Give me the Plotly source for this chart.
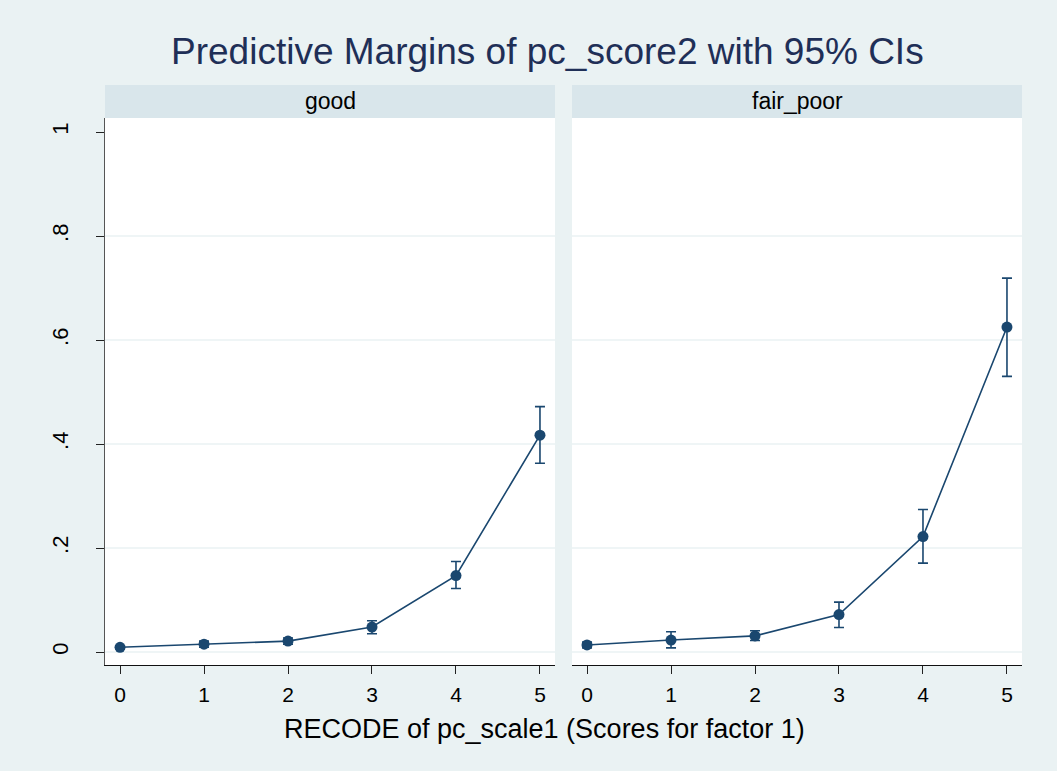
import plotly.graph_objects as go

W, H = 1057, 771

x_vals = [0, 1, 2, 3, 4, 5]
panels = ["good", "fair_poor"]

good_margin = [0.009, 0.015, 0.021, 0.048, 0.147, 0.417]
good_lo = [0.006, 0.009, 0.015, 0.035, 0.122, 0.363]
good_hi = [0.012, 0.021, 0.027, 0.060, 0.174, 0.472]

fair_margin = [0.0135, 0.023, 0.031, 0.072, 0.222, 0.625]
fair_lo = [0.008, 0.008, 0.022, 0.047, 0.171, 0.530]
fair_hi = [0.019, 0.039, 0.041, 0.096, 0.274, 0.719]

y_ticks = [0, 0.2, 0.4, 0.6, 0.8, 1]
y_tick_text = ["0", ".2", ".4", ".6", ".8", "1"]
x_ticks = [0, 1, 2, 3, 4, 5]

title_text = "Predictive Margins of pc_score2 with 95% CIs"
x_title = "RECODE of pc_scale1 (Scores for factor 1)"

NAVY = "#1A476F"
BG = "#EAF2F3"
STRIP = "#D9E6EB"
FONT = "Liberation Sans, Arial, sans-serif"

# pixel layout
pan_x = [(105, 555), (572, 1022)]
plot_top, plot_bot = 118, 665
strip_top = 85

def px(v):
    return v / W

def py(v):
    return (H - v) / H

fig = go.Figure()

series = [(good_margin, good_lo, good_hi), (fair_margin, fair_lo, fair_hi)]
for i, (m, lo, hi) in enumerate(series):
    suffix = "" if i == 0 else str(i + 1)
    fig.add_trace(go.Scatter(
        x=x_vals, y=m,
        mode="lines+markers",
        line=dict(color=NAVY, width=1.6),
        marker=dict(color=NAVY, size=11),
        error_y=dict(type="data", symmetric=False,
                     array=[h - v for h, v in zip(hi, m)],
                     arrayminus=[v - l for v, l in zip(m, lo)],
                     color=NAVY, thickness=1.6, width=5),
        xaxis="x" + suffix, yaxis="y" + suffix,
        showlegend=False,
    ))

xr = [-0.179, 5.179]
yr = [-0.025, 1.027]

common_x = dict(range=xr, tickvals=x_ticks, ticktext=[str(t) for t in x_ticks],
                ticks="outside", ticklen=8, tickwidth=1.2, tickcolor="#222",
                showline=True, linecolor="#111", linewidth=1.4,
                showgrid=False, zeroline=False, ticklabelstandoff=3,
                tickfont=dict(family=FONT, size=21, color="#000"))

layout = dict(
    width=W, height=H,
    margin=dict(l=0, r=0, t=0, b=0),
    paper_bgcolor=BG, plot_bgcolor="white",
    showlegend=False,
    xaxis=dict(domain=[px(pan_x[0][0]), px(pan_x[0][1])], anchor="y", **common_x),
    xaxis2=dict(domain=[px(pan_x[1][0]), px(pan_x[1][1])], anchor="y2", **common_x),
    yaxis=dict(domain=[py(plot_bot), py(plot_top)], range=yr, anchor="x",
               tickvals=y_ticks, ticktext=y_tick_text, tickangle=-90,
               ticks="outside", ticklen=8, tickwidth=1.2, tickcolor="#222",
               showline=True, linecolor="#555", linewidth=1.4,
               showgrid=False, zeroline=False, ticklabelstandoff=19,
               tickfont=dict(family=FONT, size=22, color="#000")),
    yaxis2=dict(domain=[py(plot_bot), py(plot_top)], range=yr, anchor="x2",
                matches="y", showticklabels=False, ticks="",
                showline=False, showgrid=False, zeroline=False),
)
fig.update_layout(**layout)

shapes = []
annotations = []
for i, name in enumerate(panels):
    suffix = "" if i == 0 else str(i + 1)
    x0, x1 = pan_x[i]
    shapes.append(dict(type="rect", xref="paper", yref="paper",
                       x0=px(x0), x1=px(x1), y0=py(plot_top), y1=py(strip_top),
                       fillcolor=STRIP, line=dict(width=0), layer="below"))
    annotations.append(dict(text=name, xref="paper", yref="paper",
                            x=px((x0 + x1) / 2), y=py((plot_top + strip_top) / 2),
                            xanchor="center", yanchor="middle", showarrow=False,
                            font=dict(family=FONT, size=23, color="#000")))
    for t in y_ticks[:-1]:
        shapes.append(dict(type="line", xref="x" + suffix + " domain", yref="y" + suffix,
                           x0=0, x1=1, y0=t, y1=t,
                           line=dict(color=BG, width=1.6), layer="below"))

annotations.append(dict(text=title_text, xref="paper", yref="paper",
                        x=px(547), y=py(52), xanchor="center", yanchor="middle",
                        showarrow=False,
                        font=dict(family=FONT, size=37, color="#1F2F57")))
annotations.append(dict(text=x_title, xref="paper", yref="paper",
                        x=px(544), y=py(729), xanchor="center", yanchor="middle",
                        showarrow=False,
                        font=dict(family=FONT, size=27, color="#000")))

fig.update_layout(shapes=shapes, annotations=annotations)
fig.write_html("out.html", config={"displayModeBar": False},
               post_script="document.body.style.margin='0';document.body.style.overflow='hidden';")
